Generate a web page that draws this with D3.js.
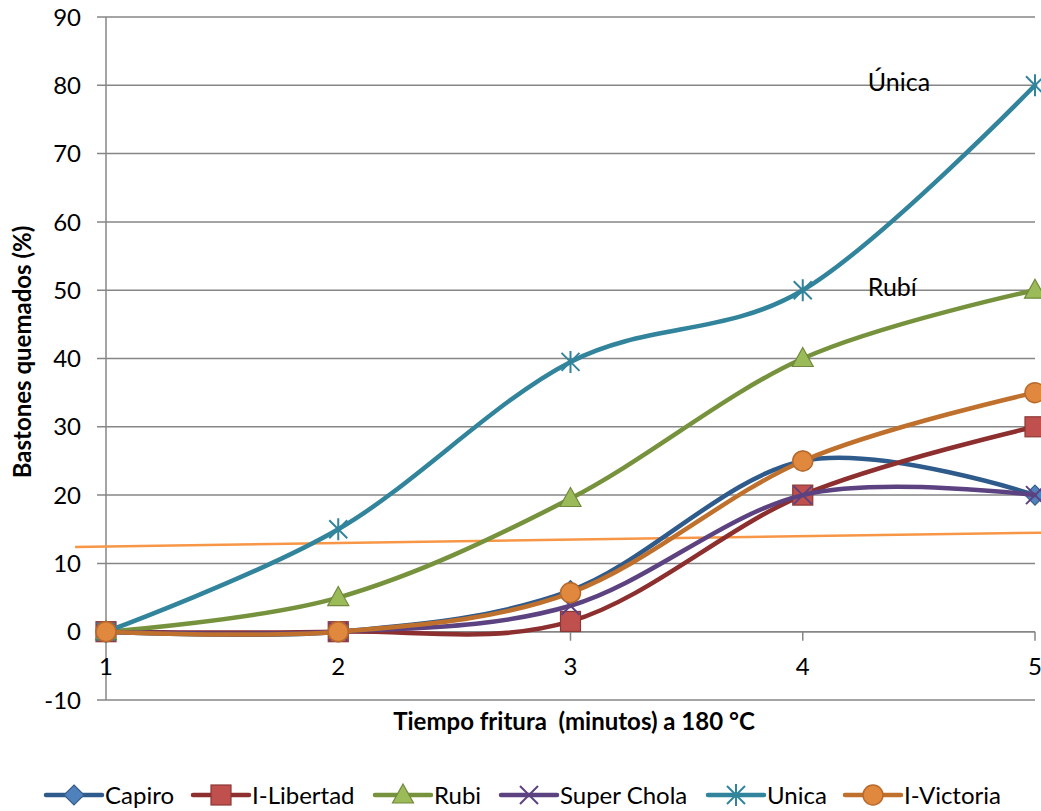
<!DOCTYPE html>
<html><head><meta charset="utf-8">
<script src="https://cdn.jsdelivr.net/npm/d3@7"></script>
<style>body{margin:0;background:#fff}svg{display:block;font-family:Lato,"Open Sans",sans-serif}text{white-space:pre}</style>
</head><body><svg id="c" width="1041" height="811"></svg>
<script>
const times = [1, 2, 3, 4, 5];
const yTicks = [-10, 0, 10, 20, 30, 40, 50, 60, 70, 80, 90];
const seriesNames = ["Capiro", "I-Libertad", "Rubi", "Super Chola", "Unica", "I-Victoria"];
const capiro = [0, 0, 6, 25, 20];
const libertad = [0, 0, 1.5, 20, 30];
const rubi = [0, 5, 19.5, 40, 50];
const superChola = [0, 0, 3.8, 20, 20];
const unica = [0, 15, 39.5, 50, 80];
const victoria = [0, 0, 5.7, 25, 35];
const trendX = [0.867, 5.03];
const trendY = [12.4, 14.5];
const annotations = [{text: "Única", x: 4.28, y: 80}, {text: "Rubí", x: 4.28, y: 50}];
const xTitle = "Tiempo fritura  (minutos) a 180 °C";
const yTitle = "Bastones quemados (%)";

const styles = [
  {line: "#2f5b8c", fill: "#4f81bd", stroke: "#385d8a", shape: "diamond"},
  {line: "#8c2f2e", fill: "#c0504d", stroke: "#8c3836", shape: "square"},
  {line: "#76923c", fill: "#9bbb59", stroke: "#71893f", shape: "triangle"},
  {line: "#5c4280", fill: "none", stroke: "#5c4280", shape: "x"},
  {line: "#31849b", fill: "none", stroke: "#31849b", shape: "star"},
  {line: "#c0702d", fill: "#e0883e", stroke: "#b86a2c", shape: "circle"}
];
const values = [capiro, libertad, rubi, superChola, unica, victoria];

const svg = d3.select("#c");
const x = d3.scaleLinear().domain([1, 5]).range([106, 1035]);
const y = d3.scaleLinear().domain([-10, 90]).range([700, 17]);
const grid = "#868686";

svg.append("g").selectAll("line").data(yTicks).join("line")
  .attr("x1", 97).attr("x2", x(5)).attr("y1", d => y(d)).attr("y2", d => y(d))
  .attr("stroke", grid).attr("stroke-width", 1.5);
svg.append("line").attr("x1", x(1)).attr("x2", x(1)).attr("y1", y(90)).attr("y2", y(-10))
  .attr("stroke", grid).attr("stroke-width", 1.5);
svg.append("g").selectAll("text").data(yTicks).join("text")
  .attr("x", 81).attr("y", d => y(d)).attr("dy", "0.36em").attr("text-anchor", "end")
  .attr("font-size", 24).attr("fill", "#000").text(d => d);
svg.append("line").attr("x1", x(1)).attr("x2", x(5)).attr("y1", y(0)).attr("y2", y(0))
  .attr("stroke", grid).attr("stroke-width", 1.5);
svg.append("g").selectAll("line").data(times).join("line")
  .attr("x1", d => x(d)).attr("x2", d => x(d)).attr("y1", y(0)).attr("y2", y(0) + 9)
  .attr("stroke", grid).attr("stroke-width", 1.5);
svg.append("g").selectAll("text").data(times).join("text")
  .attr("x", d => x(d)).attr("y", 666).attr("dy", "0.36em").attr("text-anchor", "middle")
  .attr("font-size", 24).text(d => d);

svg.append("text").attr("x", 574).attr("y", 721).attr("dy", "0.36em").attr("text-anchor", "middle")
  .attr("font-size", 24).attr("font-weight", "bold").text(xTitle);
svg.append("text").attr("transform", "translate(22,352) rotate(-90)").attr("dy", "0.36em")
  .attr("text-anchor", "middle").attr("font-size", 24).attr("font-weight", "bold").text(yTitle);

svg.append("line").attr("x1", x(trendX[0])).attr("x2", x(trendX[1]))
  .attr("y1", y(trendY[0])).attr("y2", y(trendY[1]))
  .attr("stroke", "#f79646").attr("stroke-width", 2.5);

function drawMarker(g, st, cx, cy) {
  const s = g.append("g").attr("transform", `translate(${cx},${cy})`);
  if (st.shape === "diamond") {
    s.append("path").attr("d", "M0,-10L10,0L0,10L-10,0Z").attr("fill", st.fill).attr("stroke", st.stroke).attr("stroke-width", 1.2);
  } else if (st.shape === "square") {
    s.append("rect").attr("x", -10).attr("y", -10).attr("width", 20).attr("height", 20).attr("fill", st.fill).attr("stroke", st.stroke).attr("stroke-width", 1.2);
  } else if (st.shape === "triangle") {
    s.append("path").attr("d", "M0,-11L10.5,8L-10.5,8Z").attr("fill", st.fill).attr("stroke", st.stroke).attr("stroke-width", 1.2);
  } else if (st.shape === "circle") {
    s.append("circle").attr("r", 10).attr("fill", st.fill).attr("stroke", st.stroke).attr("stroke-width", 1.5);
  } else if (st.shape === "x") {
    s.append("path").attr("d", "M-9,-9L9,9M-9,9L9,-9").attr("stroke", st.stroke).attr("stroke-width", 2);
  } else if (st.shape === "star") {
    s.append("path").attr("d", "M-9,-9L9,9M-9,9L9,-9M0,-11L0,11").attr("stroke", st.stroke).attr("stroke-width", 2);
  }
}

const lineGen = d3.line().x((d, i) => x(times[i])).y(d => y(d)).curve(d3.curveCatmullRom.alpha(0));
const plot = svg.append("g");
values.forEach((vals, k) => {
  const st = styles[k];
  const g = plot.append("g");
  g.append("path").attr("d", lineGen(vals)).attr("fill", "none").attr("stroke", st.line)
    .attr("stroke-width", 4.5).attr("stroke-linecap", "round").attr("stroke-linejoin", "round");
  vals.forEach((v, i) => drawMarker(g, st, x(times[i]), y(v)));
});

svg.append("g").selectAll("text").data(annotations).join("text")
  .attr("x", d => x(d.x)).attr("y", d => y(d.y) - 3).attr("dy", "0.36em")
  .attr("font-size", 25).text(d => d.text);

const legendX = [46, 193, 375, 501, 708, 845];
const lg = svg.append("g");
seriesNames.forEach((name, k) => {
  const st = styles[k];
  const g = lg.append("g").attr("transform", `translate(${legendX[k]},795)`);
  g.append("line").attr("x1", 0).attr("x2", 56).attr("stroke", st.line).attr("stroke-width", 4.5).attr("stroke-linecap", "round");
  drawMarker(g, st, 28, 0);
  g.append("text").attr("x", 59).attr("dy", "0.36em").attr("font-size", 24).text(name);
});
</script></body></html>
